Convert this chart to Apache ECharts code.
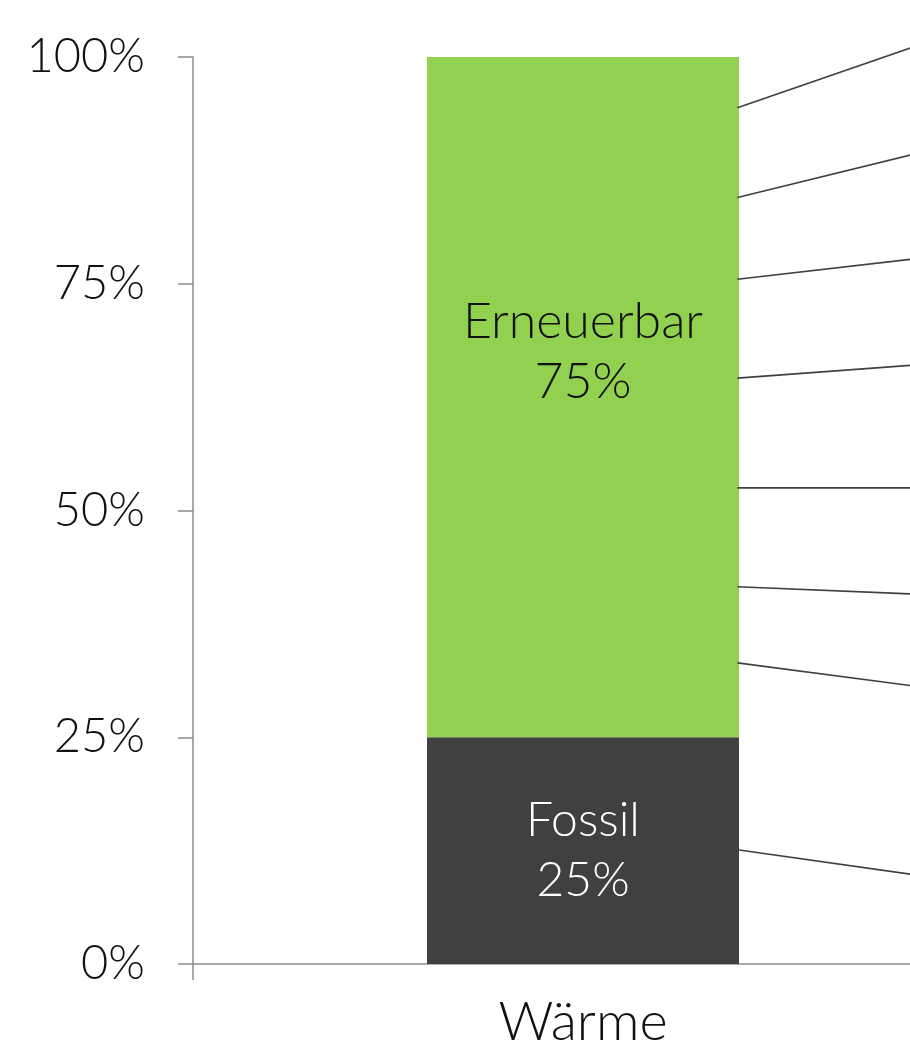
<!DOCTYPE html>
<html><head><meta charset="utf-8">
<script src="https://cdn.jsdelivr.net/npm/echarts@6/dist/echarts.min.js"></script>
<style>html,body{margin:0;padding:0;background:#fff}#c{width:910px;height:1043px}</style>
</head><body><div id="c"></div>
<script>
const categories = ['Wärme'];
const fossil = [25];
const erneuerbar = [75];
const yTicks = [0, 25, 50, 75, 100];
// leader lines: value (%) where line touches the bar, value (%) at the image edge
const leaderStart = [94.4, 84.5, 75.5, 64.6, 52.5, 41.6, 33.2, 12.6];
const leaderEnd   = [101.0, 89.2, 77.7, 66.0, 52.5, 40.8, 30.7, 9.9];

const FONT = 'Lato';
const W = 300;
const chart = echarts.init(document.getElementById('c'), null, {renderer: 'canvas'});
chart.setOption({
  animation: false,
  backgroundColor: '#ffffff',
  grid: {left: 193, right: -63, top: 57, bottom: 79, containLabel: false, outerBoundsMode: 'none'},
  xAxis: {
    type: 'category', data: categories, boundaryGap: true,
    axisLine: {lineStyle: {color: '#8c8c8c', width: 1.5}},
    axisTick: {show: true, length: 16, lineStyle: {color: '#8c8c8c', width: 1.5}},
    axisLabel: {fontFamily: FONT, fontWeight: W, fontSize: 54, color: '#111', margin: 32}
  },
  yAxis: {
    type: 'value', min: 0, max: 100, interval: 25,
    axisLine: {show: true, lineStyle: {color: '#8c8c8c', width: 1.5}},
    axisTick: {show: true, length: 15, lineStyle: {color: '#8c8c8c', width: 1.5}},
    splitLine: {show: false},
    axisLabel: {fontFamily: FONT, fontWeight: W, fontSize: 47, color: '#111', margin: 48,
      formatter: v => yTicks.includes(v) ? v + '%' : ''}
  },
  series: [
    {
      name: 'Fossil', type: 'bar', stack: 's', barWidth: '40%', data: fossil,
      itemStyle: {color: '#404040'},
      label: {show: true, position: 'inside', fontFamily: FONT, fontWeight: W, fontSize: 48, lineHeight: 60,
        color: '#ffffff', formatter: p => 'Fossil\n' + p.value + '%'}
    },
    {
      name: 'Erneuerbar', type: 'bar', stack: 's', barWidth: '40%', data: erneuerbar,
      itemStyle: {color: '#92D050'},
      label: {show: true, position: 'inside', offset: [0, -45], fontFamily: FONT, fontWeight: W, fontSize: 50, lineHeight: 60,
        color: '#111111', formatter: p => 'Erneuerbar\n' + p.value + '%'}
    },
    {
      type: 'custom', silent: true, clip: false, z: 5,
      data: leaderStart.map((s, i) => [0, s, leaderEnd[i]]),
      renderItem: function (params, api) {
        const band = api.size([1, 0])[0];
        const p0 = api.coord([api.value(0), api.value(1)]);
        const p1 = api.coord([api.value(0), api.value(2)]);
        return {
          type: 'line',
          shape: {x1: p0[0] + band * 0.198, y1: p0[1], x2: p0[0] + band * 0.42, y2: p1[1]},
          style: {stroke: '#404040', lineWidth: 1.6}
        };
      }
    }
  ]
});
</script></body></html>
